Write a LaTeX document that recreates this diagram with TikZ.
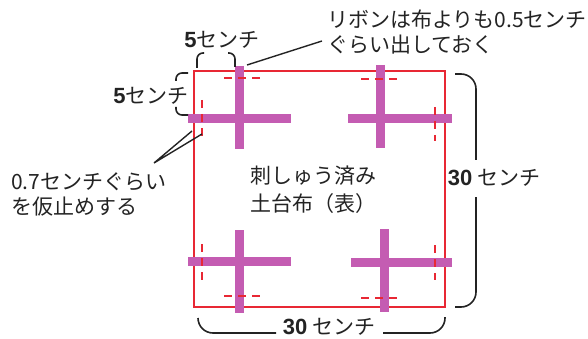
\documentclass[tikz,border=0pt]{standalone}
\usepackage{fontspec}
\setmainfont{Noto Sans CJK JP}
\newfontfamily\numf{Liberation Sans}
\definecolor{fabric}{RGB}{232,40,52}
\definecolor{ribbon}{RGB}{196,92,178}
\definecolor{ink}{RGB}{35,35,35}
\begin{document}
\begin{tikzpicture}[x=1pt,y=-1pt,
  edge/.style={draw=fabric,line width=2.2pt},
  rib/.style={draw=ribbon,line width=9pt},
  baste/.style={draw=fabric,line width=1.8pt,dash pattern=on 8pt off 6pt},
  brace/.style={draw=ink,line width=1.6pt,rounded corners=6pt},
  bigbrace/.style={draw=ink,line width=1.6pt,rounded corners=15pt},
  leader/.style={draw=ink,line width=1.4pt},
  lbl/.style={inner sep=0pt,text=ink,font=\fontsize{21}{25}\selectfont}]
\useasboundingbox (0,0) rectangle (588,339);
% fabric square
\draw[edge] (194,71) rectangle (445,307);
% ribbons
\draw[rib] (239,66) -- (239,149);
\draw[rib] (188,119) -- (291,119);
\draw[rib] (380,65) -- (380,148);
\draw[rib] (348,119) -- (452,119);
\draw[rib] (239,230) -- (239,313);
\draw[rib] (188,261) -- (291,261);
\draw[rib] (384,229) -- (384,312);
\draw[rib] (351,262) -- (452,262);
% basting
\draw[baste] (224,78) -- (260,78);
\draw[baste] (202,100) -- (202,137);
\draw[baste] (361,79) -- (397,79);
\draw[baste] (435,107) -- (435,141);
\draw[baste] (202,244) -- (202,280);
\draw[baste] (224,296) -- (260,296);
\draw[baste] (435,245) -- (435,280);
\draw[baste] (361,298) -- (397,298);
% labels
\node[lbl,anchor=west,align=left] (note1) at (327,32) {リボンは布よりも0.5センチ\\ぐらい出しておく};
\node[lbl,anchor=west,align=left] (note2) at (11,194) {0.7センチぐらい\\を仮止めする};
\node[lbl,align=center] (center) at (313,190) {刺しゅう済み\\[3pt]土台布（表）};
\node[lbl] (top5) at (222,40) {{\numf\bfseries\fontsize{22}{25}\selectfont 5}センチ};
\node[lbl] (left5) at (151,96) {{\numf\bfseries\fontsize{22}{25}\selectfont 5}センチ};
\node[lbl] (right30) at (494,178) {{\numf\bfseries\fontsize{22}{25}\selectfont 30} センチ};
\node[lbl] (bot30) at (329,327) {{\numf\bfseries\fontsize{22}{25}\selectfont 30} センチ};
% brackets
\draw[brace] (197,68) -- (197,53) -- (204,53);
\draw[brace] (228,53) -- (235,53) -- (235,67);
\draw[brace] (188,73) -- (176,73) -- (176,81);
\draw[brace] (176,107) -- (176,115) -- (188,115);
\draw[bigbrace] (455,74) -- (476,74) -- (476,160);
\draw[bigbrace] (476,197) -- (476,307) -- (455,307);
\draw[bigbrace] (198,318) -- (198,333) -- (276,333);
\draw[bigbrace] (383,333) -- (445,333) -- (445,317);
% leaders
\coordinate (l1a) at (322,41);
\coordinate (l1b) at (247,65);
\draw[leader] (l1a) -- (l1b);
\coordinate (apex) at (154,163);
\coordinate (t1) at (192,131);
\coordinate (t2) at (202,134);
\draw[leader] (t1) -- (apex) -- (t2);
\end{tikzpicture}
\end{document}
